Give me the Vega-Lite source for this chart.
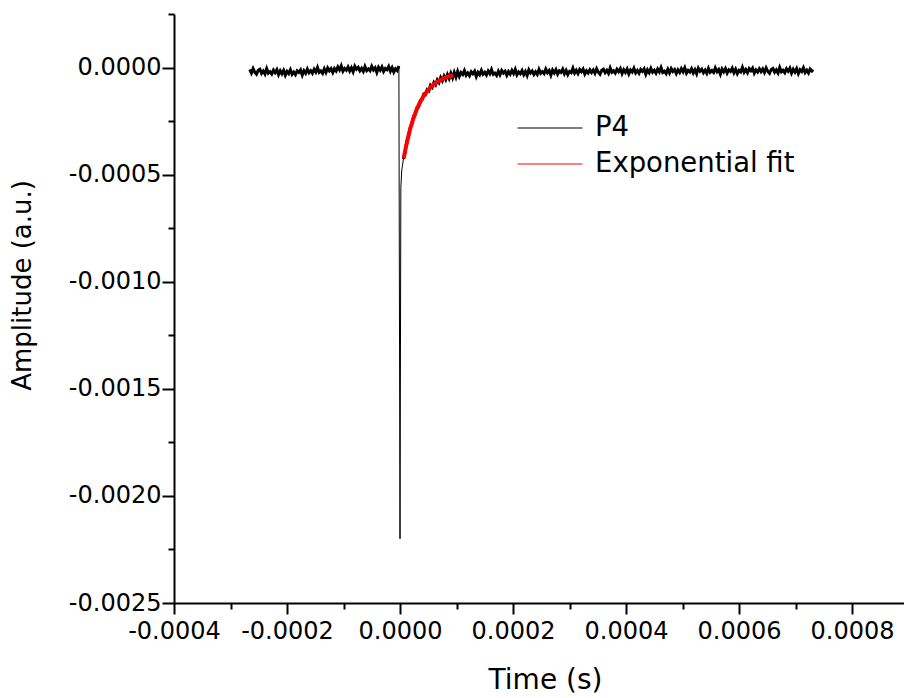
{
  "$schema": "https://vega.github.io/schema/vega-lite/v6.json",
  "width": 730,
  "height": 589,
  "autosize": {"type": "none"},
  "padding": {"left": 174, "top": 14, "right": 0, "bottom": 95},
  "background": "white",
  "config": {
    "view": {"stroke": null},
    "axis": {
      "grid": false,
      "domainColor": "black",
      "domainWidth": 2,
      "tickColor": "black",
      "tickWidth": 2,
      "labelFont": "DejaVu Sans",
      "labelFontSize": 24,
      "labelColor": "black",
      "titleFont": "DejaVu Sans",
      "titleFontWeight": "normal",
      "titleColor": "black"
    }
  },
  "datasets": {
    "p4": [
      {"t":-266e-6,"v":-10e-6},{"t":-263e-6,"v":-26e-6},{"t":-260e-6,"v":-5e-6},{"t":-257e-6,"v":-22e-6},{"t":-254e-6,"v":-31e-6},{"t":-251e-6,"v":-13e-6},{"t":-248e-6,"v":-8e-6},{"t":-245e-6,"v":-27e-6},{"t":-242e-6,"v":-16e-6},{"t":-239e-6,"v":-30e-6},
      {"t":-236e-6,"v":-5e-6},{"t":-233e-6,"v":-26e-6},{"t":-230e-6,"v":-19e-6},{"t":-227e-6,"v":-30e-6},{"t":-224e-6,"v":-12e-6},{"t":-221e-6,"v":-24e-6},{"t":-218e-6,"v":-10e-6},{"t":-215e-6,"v":-33e-6},{"t":-212e-6,"v":-15e-6},{"t":-209e-6,"v":-29e-6},
      {"t":-206e-6,"v":-13e-6},{"t":-203e-6,"v":-36e-6},{"t":-200e-6,"v":-18e-6},{"t":-197e-6,"v":-28e-6},{"t":-194e-6,"v":-10e-6},{"t":-191e-6,"v":-32e-6},{"t":-188e-6,"v":-21e-6},{"t":-185e-6,"v":-33e-6},{"t":-182e-6,"v":-15e-6},{"t":-179e-6,"v":-23e-6},
      {"t":-176e-6,"v":-11e-6},{"t":-173e-6,"v":-35e-6},{"t":-170e-6,"v":-15e-6},{"t":-167e-6,"v":-27e-6},{"t":-164e-6,"v":-7e-6},{"t":-161e-6,"v":-24e-6},{"t":-158e-6,"v":-15e-6},{"t":-155e-6,"v":-27e-6},{"t":-152e-6,"v":-8e-6},{"t":-149e-6,"v":-21e-6},
      {"t":-146e-6,"v":0},{"t":-143e-6,"v":-23e-6},{"t":-140e-6,"v":-16e-6},{"t":-137e-6,"v":-27e-6},{"t":-134e-6,"v":-6e-6},{"t":-131e-6,"v":-23e-6},{"t":-128e-6,"v":-2e-6},{"t":-125e-6,"v":-15e-6},{"t":-122e-6,"v":-5e-6},{"t":-119e-6,"v":-23e-6},
      {"t":-116e-6,"v":-5e-6},{"t":-113e-6,"v":-16e-6},{"t":-110e-6,"v":3e-6},{"t":-107e-6,"v":-11e-6},{"t":-104e-6,"v":8e-6},{"t":-101e-6,"v":-17e-6},{"t":-98e-6,"v":-4e-6},{"t":-95e-6,"v":-12e-6},{"t":-92e-6,"v":3e-6},{"t":-89e-6,"v":-16e-6},
      {"t":-86e-6,"v":-1e-6},{"t":-83e-6,"v":-20e-6},{"t":-80e-6,"v":6e-6},{"t":-77e-6,"v":-8e-6},{"t":-74e-6,"v":1e-6},{"t":-71e-6,"v":-15e-6},{"t":-68e-6,"v":-4e-6},{"t":-65e-6,"v":-18e-6},{"t":-62e-6,"v":5e-6},{"t":-59e-6,"v":-14e-6},
      {"t":-56e-6,"v":-6e-6},{"t":-53e-6,"v":-15e-6},{"t":-50e-6,"v":6e-6},{"t":-47e-6,"v":-11e-6},{"t":-44e-6,"v":-1e-6},{"t":-41e-6,"v":-23e-6},{"t":-38e-6,"v":1e-6},{"t":-35e-6,"v":-12e-6},{"t":-32e-6,"v":3e-6},{"t":-29e-6,"v":-18e-6},
      {"t":-26e-6,"v":-4e-6},{"t":-23e-6,"v":-10e-6},{"t":-20e-6,"v":5e-6},{"t":-17e-6,"v":-17e-6},{"t":-14e-6,"v":-1e-6},{"t":-11e-6,"v":-21e-6},{"t":-8e-6,"v":-6e-6},{"t":-5e-6,"v":-14e-6},{"t":-2e-6,"v":7e-6},
      {"t":0,"v":-2200e-6},{"t":1.5e-6,"v":-560e-6},
      {"t":3e-6,"v":-483e-6},{"t":6e-6,"v":-427e-6},{"t":9e-6,"v":-395e-6},{"t":12e-6,"v":-347e-6},{"t":15e-6,"v":-321e-6},{"t":18e-6,"v":-281e-6},{"t":21e-6,"v":-264e-6},{"t":24e-6,"v":-228e-6},{"t":27e-6,"v":-219e-6},{"t":30e-6,"v":-188e-6},
      {"t":33e-6,"v":-183e-6},{"t":36e-6,"v":-154e-6},{"t":39e-6,"v":-150e-6},{"t":42e-6,"v":-124e-6},{"t":45e-6,"v":-127e-6},{"t":48e-6,"v":-103e-6},{"t":51e-6,"v":-109e-6},{"t":54e-6,"v":-83e-6},{"t":57e-6,"v":-92e-6},{"t":60e-6,"v":-70e-6},
      {"t":63e-6,"v":-81e-6},{"t":66e-6,"v":-58e-6},{"t":69e-6,"v":-70e-6},{"t":72e-6,"v":-47e-6},{"t":75e-6,"v":-62e-6},{"t":78e-6,"v":-40e-6},{"t":81e-6,"v":-56e-6},{"t":84e-6,"v":-33e-6},{"t":87e-6,"v":-51e-6},{"t":90e-6,"v":-27e-6},
      {"t":93e-6,"v":-48e-6},{"t":96e-6,"v":-23e-6},{"t":99e-6,"v":-45e-6},
      {"t":102e-6,"v":-18e-6},{"t":105e-6,"v":-41e-6},{"t":108e-6,"v":-23e-6},{"t":111e-6,"v":-32e-6},{"t":114e-6,"v":-14e-6},{"t":117e-6,"v":-36e-6},{"t":120e-6,"v":-25e-6},{"t":123e-6,"v":-38e-6},{"t":126e-6,"v":-20e-6},{"t":129e-6,"v":-29e-6},
      {"t":132e-6,"v":-17e-6},{"t":135e-6,"v":-42e-6},{"t":138e-6,"v":-22e-6},{"t":141e-6,"v":-33e-6},{"t":144e-6,"v":-13e-6},{"t":147e-6,"v":-31e-6},{"t":150e-6,"v":-22e-6},{"t":153e-6,"v":-35e-6},{"t":156e-6,"v":-16e-6},{"t":159e-6,"v":-29e-6},
      {"t":162e-6,"v":-9e-6},{"t":165e-6,"v":-32e-6},{"t":168e-6,"v":-26e-6},{"t":171e-6,"v":-37e-6},{"t":174e-6,"v":-17e-6},{"t":177e-6,"v":-34e-6},{"t":180e-6,"v":-14e-6},{"t":183e-6,"v":-26e-6},{"t":186e-6,"v":-17e-6},{"t":189e-6,"v":-36e-6},
      {"t":192e-6,"v":-19e-6},{"t":195e-6,"v":-31e-6},{"t":198e-6,"v":-13e-6},{"t":201e-6,"v":-28e-6},{"t":204e-6,"v":-9e-6},{"t":207e-6,"v":-34e-6},{"t":210e-6,"v":-21e-6},{"t":213e-6,"v":-29e-6},{"t":216e-6,"v":-14e-6},{"t":219e-6,"v":-33e-6},
      {"t":222e-6,"v":-18e-6},{"t":225e-6,"v":-37e-6},{"t":228e-6,"v":-11e-6},{"t":231e-6,"v":-25e-6},{"t":234e-6,"v":-16e-6},{"t":237e-6,"v":-32e-6},{"t":240e-6,"v":-20e-6},{"t":243e-6,"v":-32e-6},{"t":246e-6,"v":-9e-6},{"t":249e-6,"v":-27e-6},
      {"t":252e-6,"v":-19e-6},{"t":255e-6,"v":-28e-6},{"t":258e-6,"v":-7e-6},{"t":261e-6,"v":-24e-6},{"t":264e-6,"v":-14e-6},{"t":267e-6,"v":-36e-6},{"t":270e-6,"v":-12e-6},{"t":273e-6,"v":-25e-6},{"t":276e-6,"v":-10e-6},{"t":279e-6,"v":-31e-6},
      {"t":282e-6,"v":-16e-6},{"t":285e-6,"v":-23e-6},{"t":288e-6,"v":-8e-6},{"t":291e-6,"v":-29e-6},{"t":294e-6,"v":-13e-6},{"t":297e-6,"v":-33e-6},{"t":300e-6,"v":-18e-6},{"t":303e-6,"v":-24e-6},{"t":306e-6,"v":-3e-6},{"t":309e-6,"v":-26e-6},
      {"t":312e-6,"v":-13e-6},{"t":315e-6,"v":-28e-6},{"t":318e-6,"v":-9e-6},{"t":321e-6,"v":-19e-6},{"t":324e-6,"v":-7e-6},{"t":327e-6,"v":-30e-6},{"t":330e-6,"v":-15e-6},{"t":333e-6,"v":-25e-6},{"t":336e-6,"v":-10e-6},{"t":339e-6,"v":-23e-6},
      {"t":342e-6,"v":-11e-6},{"t":345e-6,"v":-27e-6},{"t":348e-6,"v":-6e-6},{"t":351e-6,"v":-22e-6},{"t":354e-6,"v":-31e-6},{"t":357e-6,"v":-13e-6},{"t":360e-6,"v":-8e-6},{"t":363e-6,"v":-24e-6},{"t":366e-6,"v":-13e-6},{"t":369e-6,"v":-27e-6},
      {"t":372e-6,"v":-2e-6},{"t":375e-6,"v":-22e-6},{"t":378e-6,"v":-15e-6},{"t":381e-6,"v":-26e-6},{"t":384e-6,"v":-8e-6},{"t":387e-6,"v":-19e-6},{"t":390e-6,"v":-5e-6},{"t":393e-6,"v":-28e-6},{"t":396e-6,"v":-10e-6},{"t":399e-6,"v":-23e-6},
      {"t":402e-6,"v":-7e-6},{"t":405e-6,"v":-30e-6},{"t":408e-6,"v":-12e-6},{"t":411e-6,"v":-21e-6},{"t":414e-6,"v":-3e-6},{"t":417e-6,"v":-25e-6},{"t":420e-6,"v":-14e-6},{"t":423e-6,"v":-27e-6},{"t":426e-6,"v":-9e-6},{"t":429e-6,"v":-18e-6},
      {"t":432e-6,"v":-6e-6},{"t":435e-6,"v":-31e-6},{"t":438e-6,"v":-11e-6},{"t":441e-6,"v":-24e-6},{"t":444e-6,"v":-4e-6},{"t":447e-6,"v":-22e-6},{"t":450e-6,"v":-13e-6},{"t":453e-6,"v":-26e-6},{"t":456e-6,"v":-7e-6},{"t":459e-6,"v":-20e-6},
      {"t":462e-6,"v":0},{"t":465e-6,"v":-23e-6},{"t":468e-6,"v":-17e-6},{"t":471e-6,"v":-28e-6},{"t":474e-6,"v":-8e-6},{"t":477e-6,"v":-25e-6},{"t":480e-6,"v":-5e-6},{"t":483e-6,"v":-18e-6},{"t":486e-6,"v":-9e-6},{"t":489e-6,"v":-28e-6},
      {"t":492e-6,"v":-11e-6},{"t":495e-6,"v":-23e-6},{"t":498e-6,"v":-5e-6},{"t":501e-6,"v":-20e-6},{"t":504e-6,"v":-1e-6},{"t":507e-6,"v":-26e-6},{"t":510e-6,"v":-13e-6},{"t":513e-6,"v":-21e-6},{"t":516e-6,"v":-6e-6},{"t":519e-6,"v":-25e-6},
      {"t":522e-6,"v":-10e-6},{"t":525e-6,"v":-29e-6},{"t":528e-6,"v":-3e-6},{"t":531e-6,"v":-17e-6},{"t":534e-6,"v":-8e-6},{"t":537e-6,"v":-24e-6},{"t":540e-6,"v":-12e-6},{"t":543e-6,"v":-27e-6},{"t":546e-6,"v":-4e-6},{"t":549e-6,"v":-22e-6},
      {"t":552e-6,"v":-14e-6},{"t":555e-6,"v":-23e-6},{"t":558e-6,"v":-2e-6},{"t":561e-6,"v":-19e-6},{"t":564e-6,"v":-9e-6},{"t":567e-6,"v":-31e-6},{"t":570e-6,"v":-7e-6},{"t":573e-6,"v":-20e-6},{"t":576e-6,"v":-5e-6},{"t":579e-6,"v":-26e-6},
      {"t":582e-6,"v":-11e-6},{"t":585e-6,"v":-18e-6},{"t":588e-6,"v":-3e-6},{"t":591e-6,"v":-24e-6},{"t":594e-6,"v":-8e-6},{"t":597e-6,"v":-28e-6},{"t":600e-6,"v":-13e-6},{"t":603e-6,"v":-20e-6},{"t":606e-6,"v":1e-6},{"t":609e-6,"v":-22e-6},
      {"t":612e-6,"v":-9e-6},{"t":615e-6,"v":-24e-6},{"t":618e-6,"v":-5e-6},{"t":621e-6,"v":-15e-6},{"t":624e-6,"v":-3e-6},{"t":627e-6,"v":-26e-6},{"t":630e-6,"v":-11e-6},{"t":633e-6,"v":-21e-6},{"t":636e-6,"v":-6e-6},{"t":639e-6,"v":-19e-6},
      {"t":642e-6,"v":-7e-6},{"t":645e-6,"v":-23e-6},{"t":648e-6,"v":-2e-6},{"t":651e-6,"v":-18e-6},{"t":654e-6,"v":-27e-6},{"t":657e-6,"v":-9e-6},{"t":660e-6,"v":-4e-6},{"t":663e-6,"v":-22e-6},{"t":666e-6,"v":-11e-6},{"t":669e-6,"v":-25e-6},
      {"t":672e-6,"v":0},{"t":675e-6,"v":-20e-6},{"t":678e-6,"v":-13e-6},{"t":681e-6,"v":-24e-6},{"t":684e-6,"v":-6e-6},{"t":687e-6,"v":-17e-6},{"t":690e-6,"v":-3e-6},{"t":693e-6,"v":-26e-6},{"t":696e-6,"v":-8e-6},{"t":699e-6,"v":-21e-6},
      {"t":702e-6,"v":-5e-6},{"t":705e-6,"v":-28e-6},{"t":708e-6,"v":-10e-6},{"t":711e-6,"v":-19e-6},{"t":714e-6,"v":-1e-6},{"t":717e-6,"v":-23e-6},{"t":720e-6,"v":-12e-6},{"t":723e-6,"v":-25e-6},{"t":726e-6,"v":-7e-6},{"t":729e-6,"v":-16e-6},
      {"t":731e-6,"v":-10e-6}
    ],
    "fit": [
      {"t":6.5e-6,"v":-424e-6},{"t":10e-6,"v":-376e-6},{"t":14e-6,"v":-329e-6},{"t":18e-6,"v":-287e-6},{"t":22e-6,"v":-251e-6},{"t":26e-6,"v":-220e-6},{"t":30e-6,"v":-193e-6},
      {"t":34e-6,"v":-170e-6},{"t":38e-6,"v":-150e-6},{"t":42e-6,"v":-132e-6},{"t":46e-6,"v":-117e-6},{"t":50e-6,"v":-104e-6},{"t":55e-6,"v":-89.8e-6},{"t":60e-6,"v":-78.1e-6},
      {"t":65e-6,"v":-68.3e-6},{"t":70e-6,"v":-60e-6},{"t":75e-6,"v":-53.2e-6},{"t":80e-6,"v":-47.4e-6},{"t":85e-6,"v":-42.6e-6},{"t":90e-6,"v":-38.6e-6},{"t":94e-6,"v":-35.8e-6}
    ]
  },
  "encoding": {
    "x": {
      "field": "t",
      "type": "quantitative",
      "scale": {"domain": [-0.0004, 0.000892], "nice": false, "zero": false},
      "axis": {
        "title": "Time (s)",
        "titleFontSize": 28,
        "titleX": 371,
        "values": [-0.0004, -0.0003, -0.0002, -0.0001, 0, 0.0001, 0.0002, 0.0003, 0.0004, 0.0005, 0.0006, 0.0007, 0.0008],
        "labelExpr": "abs(datum.value/0.0002 - round(datum.value/0.0002)) < 0.01 ? replace(format(datum.value, '.4f'), '\u2212', '-') : ''",
        "tickSize": {"condition": {"test": "abs(datum.value/0.0002 - round(datum.value/0.0002)) < 0.01", "value": 11}, "value": 6},
        "labelPadding": 5,
        "titlePadding": 23,
        "labelFlush": false,
        "labelOverlap": false
      }
    },
    "y": {
      "field": "v",
      "type": "quantitative",
      "scale": {"domain": [-0.0025, 0.00025], "nice": false, "zero": false},
      "axis": {
        "title": "Amplitude (a.u.)",
        "titleFontSize": 26,
        "titleY": 271,
        "values": [0.00025, 0, -0.00025, -0.0005, -0.00075, -0.001, -0.00125, -0.0015, -0.00175, -0.002, -0.00225, -0.0025],
        "labelExpr": "abs(datum.value/0.0005 - round(datum.value/0.0005)) < 0.01 ? replace(format(datum.value, '.4f'), '\u2212', '-') : ''",
        "tickSize": {"condition": {"test": "abs(datum.value/0.0005 - round(datum.value/0.0005)) < 0.01", "value": 12}, "value": 6},
        "labelPadding": 1,
        "titlePadding": 33,
        "labelFlush": false,
        "labelOverlap": false
      }
    }
  },
  "layer": [
    {
      "data": {"name": "p4"},
      "mark": {"type": "line", "strokeWidth": 1, "clip": true},
      "encoding": {
        "color": {
          "datum": "P4",
          "type": "nominal",
          "scale": {"domain": ["P4", "Exponential fit"], "range": ["#000000", "#ff0000"]},
          "legend": {
            "title": null,
            "orient": "none",
            "legendX": 343,
            "legendY": 96,
            "padding": 0,
            "clipHeight": 36,
            "rowPadding": 0,
            "symbolType": "stroke",
            "symbolSize": 4225,
            "symbolStrokeWidth": 1,
            "labelFont": "DejaVu Sans",
            "labelFontSize": 27.5,
            "labelColor": "black",
            "labelLimit": 0,
            "labelOffset": 12
          }
        }
      }
    },
    {
      "data": {"name": "p4"},
      "transform": [{"filter": "datum.t < 0"}],
      "mark": {"type": "line", "strokeWidth": 3, "clip": true},
      "encoding": {"color": {"datum": "P4", "type": "nominal"}}
    },
    {
      "data": {"name": "p4"},
      "transform": [{"filter": "datum.t > 0.000004"}],
      "mark": {"type": "line", "strokeWidth": 3, "clip": true},
      "encoding": {"color": {"datum": "P4", "type": "nominal"}}
    },
    {
      "data": {"name": "fit"},
      "mark": {"type": "line", "strokeWidth": 4, "clip": true},
      "encoding": {
        "color": {"datum": "Exponential fit", "type": "nominal"}
      }
    }
  ]
}
